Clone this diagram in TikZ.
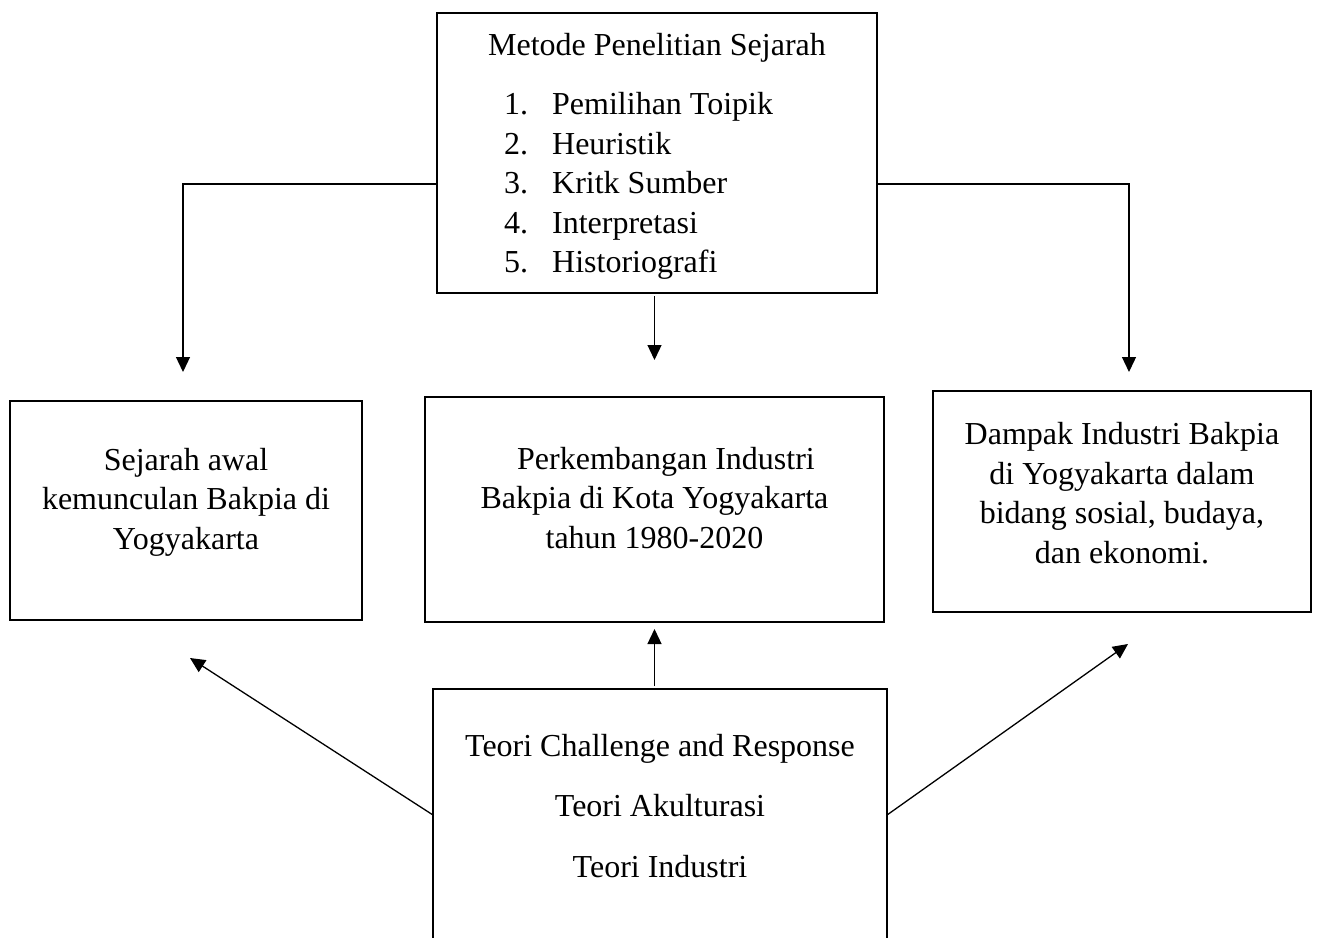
\documentclass[tikz,border=0pt]{standalone}
\usepackage{fontspec}
\setmainfont{Liberation Serif}
\usepackage{tikz}
\usetikzlibrary{arrows.meta,calc,positioning}
\tikzset{
    >={Triangle[length=7.5pt,width=7pt]},
    kotak/.style={
           rectangle,
           draw=black, line width=1pt,
           inner sep=0pt, outer sep=0pt,
           font=\fontsize{16}{19.75}\selectfont,
           text centered},
    panah/.style={
           ->,
           line width=0.65pt}
}

\begin{document}
\begin{tikzpicture}[x=0.5pt, y=-0.5pt]
        \useasboundingbox (0,0) rectangle (1317,937);
        \clip (0,0) rectangle (1317,937);

        \node[kotak, line width=0.7pt, minimum width=220pt, minimum height=140pt] (metode) at (657,153)
            {\begin{tabular}{@{\hspace{8pt}}p{24pt}@{}l@{}}
             \multicolumn{2}{@{}c@{}}{\rule{0pt}{17.3pt}Metode Penelitian Sejarah}\\[9.75pt]
             1. & Pemilihan Toipik\\
             2. & Heuristik\\
             3. & Kritk Sumber\\
             4. & Interpretasi\\
             5. & Historiografi
             \end{tabular}};
        \node[kotak, minimum width=176pt, minimum height=109.5pt] (sejarah) at (186,510.5)
            {\begin{tabular}{@{}c@{}}Sejarah awal\\ kemunculan Bakpia di\\ Yogyakarta\\[8.5pt]\end{tabular}};
        \node[kotak, minimum width=229.5pt, minimum height=112.5pt] (perkembangan) at (654.5,509.5)
            {\begin{tabular}{@{}c@{}}\hspace*{11.5pt}Perkembangan Industri\\ Bakpia di Kota Yogyakarta\\ tahun 1980-2020\\[8.5pt]\end{tabular}};
        \node[kotak, minimum width=189pt, minimum height=110.5pt] (dampak) at (1122,501.5)
            {\begin{tabular}{@{}c@{}}Dampak Industri Bakpia\\ di Yogyakarta dalam\\ bidang sosial, budaya,\\ dan ekonomi.\\[5.5pt]\end{tabular}};
        \node[kotak, anchor=north, minimum width=227pt] (teori) at (660,689)
            {\begin{tabular}{@{}c@{}}\rule{0pt}{33.5pt}Teori Challenge and Response\\[10.5pt]
             Teori Akulturasi\\[10.5pt] Teori Industri\\[80pt]\end{tabular}};

        \draw[panah, shorten >=14.5pt] ([yshift=-15.5pt]metode.west) -| ([xshift=-1.5pt]sejarah.north);
        \draw[panah, shorten <=1.5pt, shorten >=18.5pt] (perkembangan.north |- metode.south) -- (perkembangan.north);
        \draw[panah, shorten >=9.5pt] ([yshift=-15.5pt]metode.east) -| ([xshift=3.5pt]dampak.north);
        \draw[panah, shorten <=1.5pt, shorten >=3.5pt] (perkembangan.south |- teori.north) -- (perkembangan.south);
        \draw[panah] ([yshift=-63pt]teori.north west) -- ([xshift=2pt,yshift=-19pt]sejarah.south);
        \draw[panah] ([yshift=-63pt]teori.north east) -- ([xshift=3pt,yshift=-16pt]dampak.south);
    \end{tikzpicture}
\end{document}
